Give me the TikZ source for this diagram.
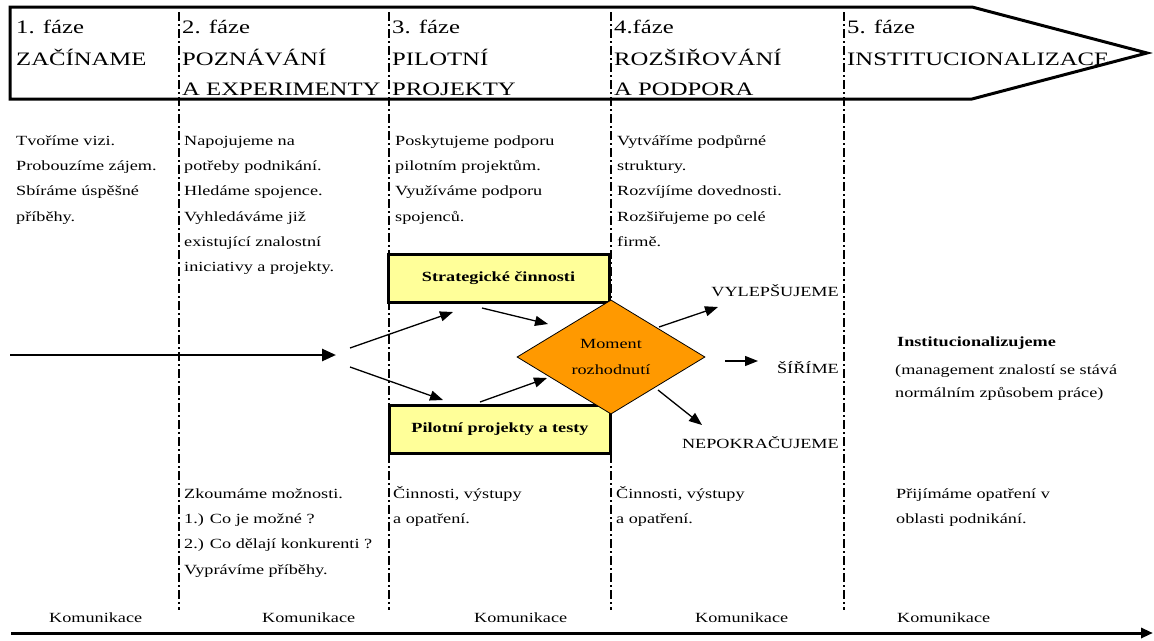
\documentclass[tikz,border=0pt]{standalone}
\usepackage{fontspec}
\setmainfont{Liberation Serif}[FakeStretch=1.3]
\usetikzlibrary{shapes.geometric,arrows.meta}
\definecolor{boxyellow}{HTML}{FFFF99}
\definecolor{diaorange}{HTML}{FF9900}
\newcommand\textlines[4]{%
  \foreach \t [count=\i from 0] in {#4} {\node[body] (#1\i) at (#2,#3+25.2*\i) {\t};}}
\begin{document}
\begin{tikzpicture}[x=1pt,y=-1pt,
  hdr/.style={font=\fontsize{19}{31.5}\selectfont, anchor=base west, inner sep=0pt},
  body/.style={font=\fontsize{14}{25}\selectfont, anchor=base west, inner sep=0pt},
  bodyr/.style={font=\fontsize{14}{25}\selectfont, anchor=base east, inner sep=0pt},
  ybox/.style={draw, line width=3pt, fill=boxyellow, minimum width=221pt, minimum height=48pt,
    font=\fontsize{14}{16}\bfseries\selectfont, inner sep=0pt},
  dia/.style={draw, line width=0.8pt, fill=diaorange, shape=diamond, minimum width=188pt,
    minimum height=96pt, inner sep=0pt, align=center, font=\fontsize{14}{26}\selectfont},
  dashln/.style={line width=1.3pt, dash pattern=on 9pt off 3pt on 2pt off 3pt},
  arr/.style={line width=1.3pt, -{Triangle[length=13pt,width=10pt]}},
  bigarr/.style={line width=2.6pt, -{Triangle[length=14pt,width=12pt]}}]
\useasboundingbox (0,0) rectangle (1154,640);
% dashed phase separators
\foreach \x in {179,389,611,844} \draw[dashln] (\x,12) -- (\x,610);
% header arrow
\draw[line width=3pt, line join=miter] (10,7) -- (972,7) -- (1147,53) -- (972,99) -- (10,99) -- cycle;
% header texts
\node[hdr] (h1a) at (16,33) {1. fáze};
\node[hdr] (h1b) at (16,65) {ZAČÍNAME};
\node[hdr] (h2a) at (182,33) {2. fáze};
\node[hdr] (h2b) at (182,65) {POZNÁVÁNÍ};
\node[hdr] (h2c) at (182,95) {A EXPERIMENTY};
\node[hdr] (h3a) at (392,33) {3. fáze};
\node[hdr] (h3b) at (392,65) {PILOTNÍ};
\node[hdr] (h3c) at (392,95) {PROJEKTY};
\node[hdr] (h4a) at (614,33) {4.fáze};
\node[hdr] (h4b) at (614,65) {ROZŠIŘOVÁNÍ};
\node[hdr] (h4c) at (614,95) {A PODPORA};
\node[hdr] (h5a) at (847,33) {5. fáze};
\node[hdr] (h5b) at (847,65) {INSTITUCIONALIZACE};
% upper column texts
\textlines{ta}{16}{145.5}{Tvoříme vizi., Probouzíme zájem., Sbíráme úspěšné, příběhy.}
\textlines{tb}{184}{145.5}{Napojujeme na, potřeby podnikání., Hledáme spojence., Vyhledáváme již, existující znalostní, iniciativy a projekty.}
\textlines{tc}{395}{145.5}{Poskytujeme podporu, pilotním projektům., Využíváme podporu, spojenců.}
\textlines{td}{617}{145.5}{Vytváříme podpůrné, struktury., Rozvíjíme dovednosti., Rozšiřujeme po celé, firmě.}
% lower column texts
\textlines{bb}{184}{498.5}{Zkoumáme možnosti., 1.) Co je možné ?, 2.) Co dělají konkurenti ?, Vyprávíme příběhy.}
\textlines{bc}{393}{498.5}{{Činnosti, výstupy}, a opatření.}
\textlines{bd}{616}{498.5}{{Činnosti, výstupy}, a opatření.}
\textlines{be}{896}{498.5}{Přijímáme opatření v, oblasti podnikání.}
% boxes and decision
\node[ybox] (strat) at (498.5,278) {Strategické činnosti};
\node[ybox] (pilot) at (500,429) {Pilotní projekty a testy};
\node[dia] (dec) at (611,357) {Moment\\rozhodnutí};
% outcomes
\node[bodyr] (vyl) at (839,296) {VYLEPŠUJEME};
\node[bodyr] (sir) at (839,373) {ŠÍŘÍME};
\node[bodyr] (nep) at (839,448) {NEPOKRAČUJEME};
\node[body, font=\fontsize{14}{25}\bfseries\selectfont] (inst) at (897,346.5) {Institucionalizujeme};
\node[body] (inst2) at (895,374.5) {(management znalostí se stává};
\node[body] (inst3) at (895,397) {normálním způsobem práce)};
% arrow end points
\coordinate (inS) at (10,355); \coordinate (inE) at (336,355);
\coordinate (f1) at (350,348); \coordinate (upE) at (453,312);
\coordinate (f2) at (350,367); \coordinate (loE) at (443,400);
\coordinate (stS) at (482,308); \coordinate (stE) at (548,324);
\coordinate (plS) at (480,402); \coordinate (plE) at (547,378);
\coordinate (d1S) at (659,327); \coordinate (d1E) at (718,307);
\coordinate (d2S) at (725,361); \coordinate (d2E) at (758,361);
\coordinate (d3S) at (658,390); \coordinate (d3E) at (702,425);
\draw[bigarr] (inS) -- (inE);
\draw[arr] (f1) -- (upE);
\draw[arr] (f2) -- (loE);
\draw[arr] (stS) -- (stE);
\draw[arr] (plS) -- (plE);
\draw[arr] (d1S) -- (d1E);
\draw[arr] (d2S) -- (d2E);
\draw[arr] (d3S) -- (d3E);
% communication timeline
\node[body] (k1) at (49,622) {Komunikace};
\node[body] (k2) at (262,622) {Komunikace};
\node[body] (k3) at (474,622) {Komunikace};
\node[body] (k4) at (695,622) {Komunikace};
\node[body] (k5) at (897,622) {Komunikace};
\coordinate (bS) at (11,633); \coordinate (bE) at (1153,633);
\draw[line width=3pt, -{Triangle[length=12pt,width=10pt]}] (bS) -- (bE);
\end{tikzpicture}
\end{document}
